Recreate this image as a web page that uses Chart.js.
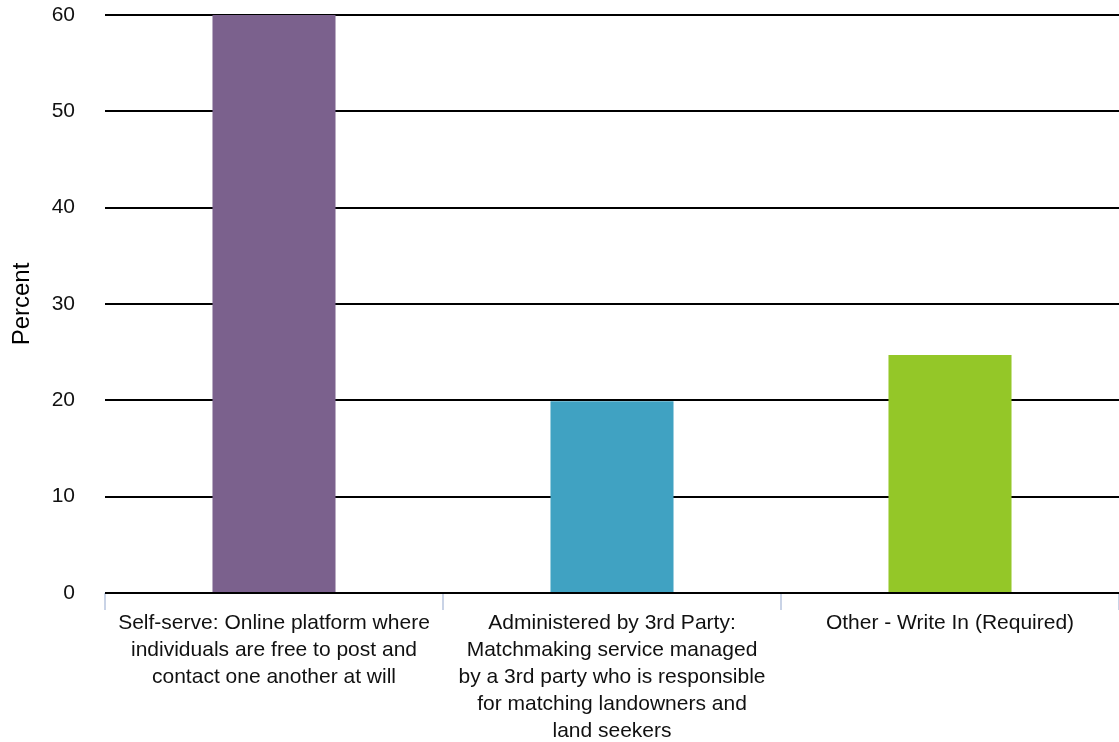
<!DOCTYPE html>
<html>
<head>
<meta charset="utf-8">
<script src="https://cdn.jsdelivr.net/npm/chart.js@4/dist/chart.umd.min.js"></script>
<style>
	html, body {margin: 0; padding: 0; background: #fff;}
	#wrap {width: 1119px; height: 742px; position: relative;}
</style>
</head>
<body>
<div id="wrap"><canvas id="chart"></canvas></div>
<script>
// Categories, values and colours
const categories = [
	['Self-serve: Online platform where', 'individuals are free to post and', 'contact one another at will'],
	['Administered by 3rd Party:', 'Matchmaking service managed', 'by a 3rd party who is responsible', 'for matching landowners and', 'land seekers'],
	['Other - Write In (Required)']
];
const percent = [60, 19.9, 24.7];
const barColors = ['#7b618d', '#40a2c2', '#94c728'];
const yTicks = [0, 10, 20, 30, 40, 50, 60];

const font = 'Liberation Sans, Arial, Helvetica, sans-serif';

new Chart(document.getElementById('chart'), {
	type: 'bar',
	data: {
		labels: categories,
		datasets: [{
			label: 'Percent',
			data: percent,
			backgroundColor: barColors,
			borderWidth: 0,
			barPercentage: 0.364,
			categoryPercentage: 1
		}]
	},
	options: {
		responsive: true,
		maintainAspectRatio: false,
		animation: false,
		layout: {padding: 0},
		plugins: {
			legend: {display: false},
			tooltip: {enabled: false}
		},
		scales: {
			x: {
				offset: true,
				afterFit: (scale) => { scale.height = 149; },
				grid: {
					offset: true,
					drawOnChartArea: false,
					drawTicks: true,
					tickLength: 17,
					color: '#c9d3e6',
					lineWidth: 2
				},
				border: {display: false},
				ticks: {
					color: '#111',
					font: {family: font, size: 21, lineHeight: 1.286},
					padding: 0,
					maxRotation: 0,
					autoSkip: false
				}
			},
			y: {
				min: 0,
				max: 60,
				afterBuildTicks: (axis) => {
					axis.ticks = yTicks.map((v) => ({value: v}));
				},
				afterFit: (scale) => {
					scale.width = 105;
					scale.paddingTop = 15;
					scale.paddingBottom = 0;
				},
				grid: {
					color: '#000',
					lineWidth: 2,
					drawTicks: false
				},
				border: {display: false},
				ticks: {
					color: '#111',
					font: {family: font, size: 21},
					padding: 30
				},
				title: {
					display: true,
					text: 'Percent',
					color: '#000',
					font: {family: font, size: 24},
					padding: {top: 8, bottom: 0}
				}
			}
		}
	}
});
</script>
</body>
</html>
